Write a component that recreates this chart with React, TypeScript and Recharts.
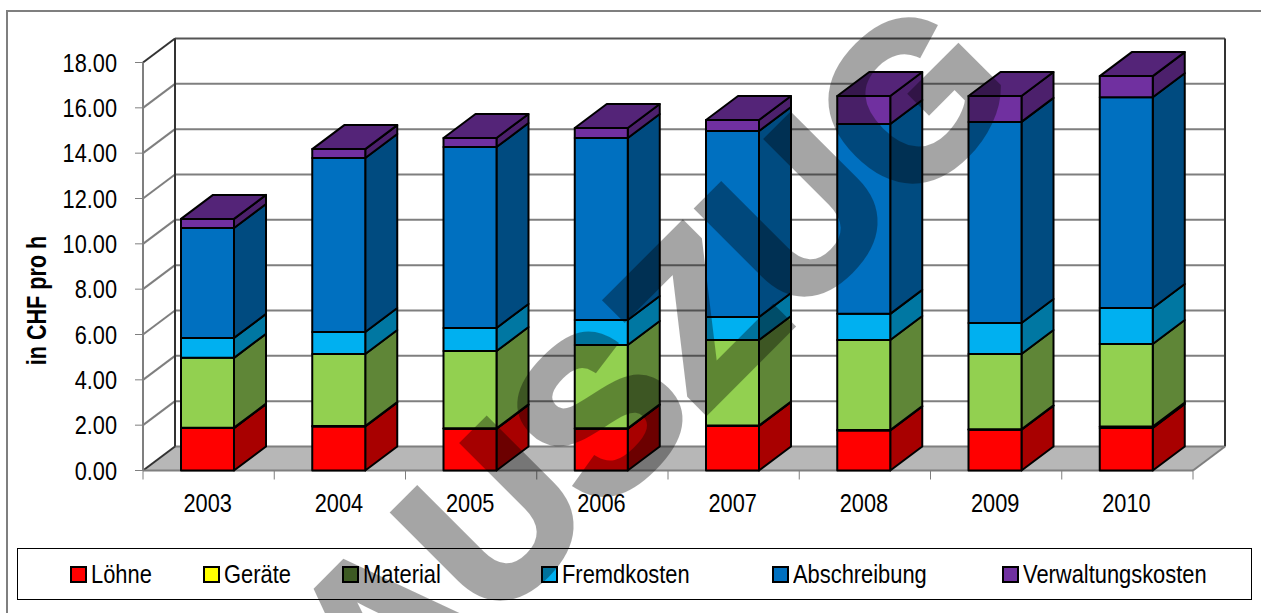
import { BarChart, Bar, XAxis, YAxis, Legend, usePlotArea } from "recharts"

const years = ['2003', '2004', '2005', '2006', '2007', '2008', '2009', '2010']
const loehne = [1.87, 1.94, 1.84, 1.84, 1.96, 1.77, 1.8, 1.88]
const geraete = [0.02, 0.02, 0.02, 0.02, 0.02, 0.02, 0.02, 0.06]
const material = [3.08, 3.18, 3.41, 3.68, 3.78, 3.97, 3.32, 3.64]
const fremdkosten = [0.88, 0.97, 1.02, 1.1, 1.01, 1.15, 1.37, 1.59]
const abschreibung = [4.85, 7.68, 7.98, 8.03, 8.21, 8.38, 8.87, 9.3]
const verwaltung = [0.4, 0.39, 0.4, 0.44, 0.48, 1.23, 1.14, 0.93]
const yTicks = [0, 2, 4, 6, 8, 10, 12, 14, 16, 18]

const data = years.map((year, i) => ({
    year,
    loehne: loehne[i],
    geraete: geraete[i],
    material: material[i],
    fremdkosten: fremdkosten[i],
    abschreibung: abschreibung[i],
    verwaltung: verwaltung[i],
}))

const DX = 32
const DY = 24
const FONT = '"Liberation Sans", Arial, sans-serif'
const legendLeft = [70, 203, 342, 541, 772, 1002]

const Walls = () => {
    const plot = usePlotArea()
    if (!plot) return null
    const { x, y, width, height } = plot
    const right = x + width
    const bottom = y + height
    const band = width / years.length
    const gray = '#7f7f7f'
    return (
        <g>
            <polygon
                points={`${x},${bottom} ${x + DX},${bottom - DY} ${right + DX},${bottom - DY} ${right},${bottom}`}
                fill="#b7b7b7"
            />
            {yTicks.map((t) => {
                const ty = bottom - (t / 18) * height
                return (
                    <g key={t} stroke={gray} strokeWidth={2} fill="none">
                        <line x1={x + DX} x2={right + DX} y1={ty - DY} y2={ty - DY} stroke={t === 18 ? '#555' : gray} />
                        <line x1={x} x2={x + DX} y1={ty} y2={ty - DY} stroke={t === 18 ? '#333' : t === 0 ? '#333' : gray} />
                    </g>
                )
            })}
            <line x1={x} x2={x} y1={y} y2={bottom} stroke={gray} strokeWidth={2} />
            <line x1={x + DX} x2={x + DX} y1={y - DY} y2={bottom - DY} stroke="#333" strokeWidth={2} />
            <line x1={right + DX} x2={right + DX} y1={y - DY} y2={bottom - DY} stroke="#333" strokeWidth={2} />
            <line x1={right} x2={right + DX} y1={bottom} y2={bottom - DY} stroke={gray} strokeWidth={2} />
            <line x1={x} x2={right} y1={bottom} y2={bottom} stroke={gray} strokeWidth={2} />
            {[...years, ''].map((_, i) => (
                <line key={i} x1={x + i * band} x2={x + i * band} y1={bottom} y2={bottom + 9} stroke={gray} strokeWidth={1} />
            ))}
            <text
                transform="translate(46,300.5) rotate(-90) scale(0.8,1)"
                textAnchor="middle"
                fontFamily={FONT}
                fontWeight="bold"
                fontSize={27}
                fill="#000"
            >
                in CHF pro h
            </text>
        </g>
    )
}

const bar3d = (front: string, side: string, top?: string) => (props: any) => {
    const { x, y, width, height } = props
    const bx = x - 1
    const r = bx + width
    return (
        <g stroke="#000" strokeWidth={2} strokeLinejoin="round">
            <polygon
                points={`${r},${y} ${r + DX},${y - DY} ${r + DX},${y + height - DY} ${r},${y + height}`}
                fill={side}
            />
            <rect x={bx} y={y} width={width} height={height} fill={front} />
            {top && (
                <polygon
                    points={`${bx},${y} ${bx + DX},${y - DY} ${r + DX},${y - DY} ${r},${y}`}
                    fill={top}
                />
            )}
        </g>
    )
}

const YTick = ({ x, y, payload }: any) => (
    <text
        transform={`translate(${x},${y + 9}) scale(0.87,1)`}
        textAnchor="end"
        fontFamily={FONT}
        fontSize={25}
        fill="#000"
    >
        {payload.value.toFixed(2)}
    </text>
)

const XTick = ({ x, y, payload }: any) => (
    <text
        transform={`translate(${x - 1},${y + 9}) scale(0.87,1)`}
        textAnchor="middle"
        fontFamily={FONT}
        fontSize={25}
        fill="#000"
    >
        {payload.value}
    </text>
)

const LegendBox = ({ payload }: any) => (
    <div style={{ position: 'relative', width: 1233, height: 50, border: '1px solid #000', fontFamily: FONT }}>
        {(payload || []).map((item: any, i: number) => (
            <div key={item.value}>
                <div
                    style={{
                        position: 'absolute',
                        left: legendLeft[i] - 17,
                        top: 18,
                        width: 13,
                        height: 13,
                        border: '1px solid #000',
                        outline: '0.5px solid #000',
                        background: item.color,
                    }}
                />
                <div
                    style={{
                        position: 'absolute',
                        left: legendLeft[i] + 3,
                        top: 11,
                        fontSize: 25,
                        lineHeight: '29px',
                        whiteSpace: 'nowrap',
                        transform: 'scaleX(0.875)',
                        transformOrigin: 'left',
                        color: '#000',
                    }}
                >
                    {item.value}
                </div>
            </div>
        ))}
    </div>
)

export default function App() {
    return (
        <div style={{ position: 'absolute', left: 0, top: 0, width: 1261, height: 613, overflow: 'hidden', background: '#fff' }}>
            <div style={{ position: 'absolute', left: 6, top: 10, width: 1400, height: 800, borderLeft: '2px solid #7f7f7f', borderTop: '2px solid #7f7f7f' }} />
            <div style={{ position: 'absolute', left: 0, top: 0 }}>
                <BarChart
                    width={1261}
                    height={613}
                    data={data}
                    barSize={53}
                    margin={{ top: 62.5, right: 68, bottom: 112.5, left: 83 }}
                >
                    <Walls />
                    <XAxis dataKey="year" tick={<XTick />} axisLine={false} tickLine={false} tickSize={0} tickMargin={32} interval={0} />
                    <YAxis
                        width={60}
                        domain={[0, 18]}
                        ticks={yTicks}
                        tick={<YTick />}
                        axisLine={false}
                        tickLine={{ stroke: '#7f7f7f' }}
                        tickSize={8}
                        tickMargin={18}
                    />
                    <Legend
                        verticalAlign="middle"
                        itemSorter={null}
                        content={<LegendBox />}
                        wrapperStyle={{ position: 'absolute', left: 17, top: 548, width: 1235, height: 52, margin: 0 }}
                    />
                    <Bar dataKey="loehne" name="Löhne" stackId="a" fill="#ff0000" shape={bar3d('#ff0000', '#a80000')} isAnimationActive={false} />
                    <Bar dataKey="geraete" name="Geräte" stackId="a" fill="#ffff00" shape={bar3d('#ffff00', '#a8a800')} isAnimationActive={false} />
                    <Bar dataKey="material" name="Material" stackId="a" fill="#5f8b37" shape={bar3d('#92d050', '#5f8637')} isAnimationActive={false} />
                    <Bar dataKey="fremdkosten" name="Fremdkosten" stackId="a" fill="#00b0f0" shape={bar3d('#00b0f0', '#0077a2')} isAnimationActive={false} />
                    <Bar dataKey="abschreibung" name="Abschreibung" stackId="a" fill="#0070c0" shape={bar3d('#0070c0', '#004b80')} isAnimationActive={false} />
                    <Bar dataKey="verwaltung" name="Verwaltungskosten" stackId="a" fill="#7030a0" shape={bar3d('#7030a0', '#4c206c', '#542478')} isAnimationActive={false} />
                </BarChart>
            </div>
            <svg width={1261} height={613} style={{ position: 'absolute', left: 0, top: 0, pointerEvents: 'none' }}>
                <text
                    transform="translate(381,736) rotate(-45)"
                    fontFamily={FONT}
                    fontWeight="bold"
                    fontSize={215}
                    fill="#000"
                    stroke="#000"
                    strokeWidth={8}
                    opacity={0.35}
                >
                    AUSZUG
                </text>
            </svg>
        </div>
    )
}
